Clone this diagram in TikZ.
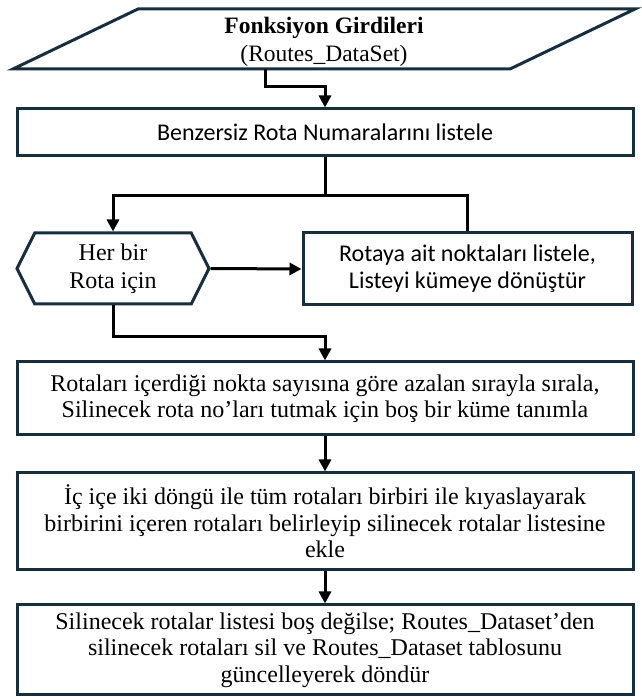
\documentclass[tikz,border=0pt]{standalone}
\usepackage{fontspec}
\setmainfont{Liberation Serif}
\newfontfamily\boxsans{Carlito}
\usetikzlibrary{arrows.meta,shapes.symbols}
\definecolor{edgecol}{RGB}{22,46,62}

\begin{document}
\begin{tikzpicture}[x=1pt,y=1pt,
  box/.style={draw=edgecol,line width=3pt,fill=white,minimum width=616pt,align=center,
    font=\fontsize{24}{26.5}\selectfont},
  sbox/.style={box,font=\boxsans\fontsize{24}{27}\selectfont},
  conn/.style={line width=3pt,-{Triangle[length=12pt,width=12pt]}},
  link/.style={line width=3pt}]
\useasboundingbox (0,0) rectangle (642,697);
\draw[draw=edgecol,line width=3pt] (13,628) -- (138,688) -- (635,688) -- (510,628) -- cycle;
\node[align=center,font=\fontsize{23.5}{28}\selectfont] (inp) at (324,655) {\textbf{Fonksiyon Girdileri}\\(Routes\_DataSet)};
\coordinate (inpout) at (265,628);
\node[sbox,minimum height=47pt] (lst) at (325,564.5) {Benzersiz Rota Numaralarını listele};
\node[box,shape=signal,signal to=west and east,signal pointer angle=127,minimum width=192pt,minimum height=71pt,inner xsep=2pt,font=\fontsize{24}{28}\selectfont] (each) at (113,428.5) {Her bir\\Rota için};
\node[sbox,minimum width=329pt,minimum height=72pt] (pts) at (467.5,428) {Rotaya ait noktaları listele,\\Listeyi kümeye dönüştür};
\node[box,minimum height=73pt] (srt) at (325,298.5) {Rotaları içerdiği nokta sayısına göre azalan sırayla sırala,\\Silinecek rota no’ları tutmak için boş bir küme tanımla};
\node[box,minimum height=97pt] (cmp) at (325,175.5) {İç içe iki döngü ile tüm rotaları birbiri ile kıyaslayarak\\birbirini içeren rotaları belirleyip silinecek rotalar listesine\\ekle};
\node[box,minimum height=90pt] (del) at (325,47) {Silinecek rotalar listesi boş değilse; Routes\_Dataset’den\\silinecek rotaları sil ve Routes\_Dataset tablosunu\\güncelleyerek döndür};
\coordinate (split) at (325,501);
% connectors
\draw[conn] (inpout) -- ++(0,-18) -| (lst.north);
\draw[link] (lst.south) -- (split);
\draw[conn] (split) -| (each.north);
\draw[link] (split) -| (pts.north);
\draw[conn] (each.east) -- (pts.west);
\draw[conn] (each.south) -- ++(0,-31) -| (srt.north);
\draw[conn] (srt.south) -- (cmp.north);
\draw[conn] (cmp.south) -- (del.north);
\end{tikzpicture}
\end{document}
